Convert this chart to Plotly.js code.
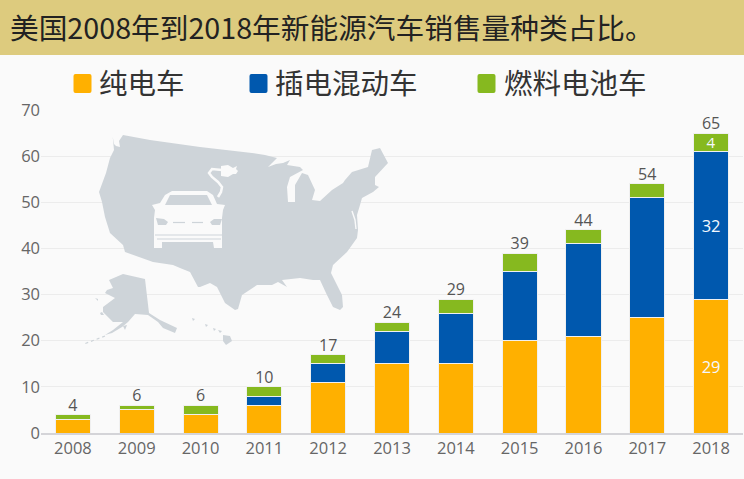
<!DOCTYPE html>
<html><head><meta charset="utf-8">
<script src="https://cdn.plot.ly/plotly-3.0.1.min.js"></script>
<style>html,body{margin:0;padding:0;background:#fafafa}#c{width:744px;height:479px}</style>
</head><body><div id="c"></div>
<script>
const years=[2008,2009,2010,2011,2012,2013,2014,2015,2016,2017,2018];
const battery=[3,5,4,6,11,15,15,20,21,25,29];
const plugin=[0,0,0,2,4,7,11,15,20,26,32];
const fuelCell=[1,1,2,2,2,2,3,4,3,3,4];
const totals=[4,6,6,10,17,24,29,39,44,54,65];
const batteryText=["","","","","","","","","","","29"];
const pluginText=["","","","","","","","","","","32"];
const fuelText=["","","","","","","","","","","4"];
const titleText="美国2008年到2018年新能源汽车销售量种类占比。";
const names=["纯电车","插电混动车","燃料电池车"];
const colors=["#FFB000","#0058AE","#86B91F"];

const W=744,H=479,mL=41,mR=1,mT=110,mB=46;
const pw=W-mL-mR,ph=H-mT-mB;
// decorative map outline, traced in page pixels and placed through the axes
const dx=p=>2007.5+(p-mL)/(pw/11);
const dy=p=>(H-mB-p)/(ph/70);
const poly=(a,close=true)=>a.map((p,i)=>(i?'L':'M')+dx(p[0]).toFixed(4)+','+dy(p[1]).toFixed(4)).join(' ')+(close?' Z':'');
const usa=[[112.7,136.7],[114,144],[116,146],[120,147],[119,141],[123,135],[150,140],[200,147],[252,153],[265,155],[277,158],[268,167],[276,164],[283,163],[290,160],[287,165],[300,167],[303,170],[290,177],[287,187],[288,202],[295,202],[295,185],[302,173],[308,175],[315,190],[312,200],[320,201],[332,190],[343,183],[345,180],[352,172],[368,167],[372,150],[380,148],[388,163],[375,177],[375,185],[379,187],[373,192],[362,198],[360,205],[357,215],[358,230],[357,238],[347,252],[333,265],[331,273],[342,295],[343,307],[340,310],[333,307],[326,293],[320,280],[313,280],[300,278],[282,280],[287,287],[278,282],[272,285],[257,285],[242,295],[238,309],[235,310],[225,303],[217,287],[210,283],[200,287],[198,287],[190,272],[180,268],[173,265],[153,262],[125,252],[123,245],[110,233],[105,217],[102,202],[99,192],[106,173],[110,158],[114,150]];
const alaska=[[123,274],[145,279],[149,313],[160,320],[177,328],[175,333],[163,328],[158,322],[148,315],[135,314],[128,322],[122,327],[112,333],[105,335],[113,330],[123,322],[113,322],[103,312],[103,307],[115,298],[105,293],[107,290],[113,288],[109,280]];
const islets=[[[95,298],[98,299],[98,301]],[[100,313],[102,312],[104,315],[101,315]],[[123,326],[127,325],[125,330]],[[192,318],[195,319],[193,321]],[[205,324],[208,325],[206,327]],[[213,328],[216,329],[214,331]],[[218,330],[222,331],[220,333]],[[223,335],[230,336],[232,341],[226,345],[223,341]]];
const carBody=[[160,203],[165,195],[172,191],[207,191],[213,195],[217,204],[225,205],[223,210],[222,218],[222,240],[222,248],[214,248],[213,242],[162,242],[162,248],[154,248],[154,218],[155,210],[152,205]];
const carWin=[[165,205],[170,195],[207,195],[212,205]];
const lampL=[[156,218],[164,219],[168,222],[166,225],[158,225]];
const lampR=[[222,219],[214,219],[210,222],[212,225],[220,225]];
const cable=[[218,197],[221,192],[222,187],[218,182],[212,177],[209,173],[212,169],[222,170]];
const plug=[[221,166],[228,165],[233,168],[237,166],[236,169],[238,171],[236,174],[233,174],[228,177],[221,176]];

const gray='#ced4d9',bg='#fafafa';
const fillS=(path,color)=>({type:'path',xref:'x',yref:'y',layer:'between',path,fillcolor:color,line:{width:0}});
const lineS=(path,color,w,dash)=>({type:'path',xref:'x',yref:'y',layer:'between',path,fillcolor:'rgba(0,0,0,0)',line:{color,width:w,dash:dash||'solid'}});
const mapShapes=[
 fillS(poly(usa),gray),fillS(poly(alaska),gray),...islets.map(h=>fillS(poly(h),gray)),
 lineS(poly([[105,336],[84,344]],false),gray,1.2,'3px,3px'),
 lineS(poly([[352,211],[355,220],[356,229]],false),bg,1.4),
 fillS(poly(carBody),bg),fillS(poly(carWin),gray),fillS(poly(lampL),gray),fillS(poly(lampR),gray),
 lineS(poly([[173,222.5],[185,222.5]],false),gray,1.2),lineS(poly([[192,222.5],[203,222.5]],false),gray,1.2),
 lineS(poly([[155,235],[222,235]],false),gray,1.2),lineS(poly([[157,239],[221,239]],false),gray,1.2),
 lineS(poly(cable,false),bg,2.5),fillS(poly(plug),bg)
];
const fx=p=>(p-mL)/pw, fy=p=>(H-mB-p)/ph;
const band={type:'rect',xref:'paper',yref:'paper',layer:'below',x0:fx(0),x1:fx(W),y0:fy(55),y1:fy(0),fillcolor:'#DDCB7E',line:{width:0}};
const swatch=(x0,y0,color)=>{const x1=x0+18,y1=y0+19,r=2;
 const P=(x,y)=>fx(x).toFixed(5)+','+fy(y).toFixed(5);
 return {type:'path',xref:'paper',yref:'paper',layer:'below',fillcolor:color,line:{width:0},
  path:`M${P(x0+r,y0)} L${P(x1-r,y0)} Q${P(x1,y0)} ${P(x1,y0+r)} L${P(x1,y1-r)} Q${P(x1,y1)} ${P(x1-r,y1)} L${P(x0+r,y1)} Q${P(x0,y1)} ${P(x0,y1-r)} L${P(x0,y0+r)} Q${P(x0,y0)} ${P(x0+r,y0)} Z`};};
const swatchX=[73.5,249.5,477.5], legendTextX=[98,274,503];
const legendNotes=names.map((n,i)=>({xref:'paper',yref:'paper',x:fx(legendTextX[i]),y:fy(81),xanchor:'left',yanchor:'middle',showarrow:false,text:n,
 font:{family:'"Noto Sans CJK SC"',size:28.5,color:'#333333'},borderpad:0}));

const bar=(name,y,color,text,size)=>({type:'bar',name,x:years,y,width:0.55,text,textposition:'inside',insidetextanchor:'middle',textangle:0,constraintext:'none',
  insidetextfont:{family:'Open Sans, sans-serif',size,color:'#f4f8ff'},marker:{color,line:{color:'#f0f0f0',width:1}},hoverinfo:'x+y+name'});
const traces=[bar(names[0],battery,colors[0],batteryText,16.5),bar(names[1],plugin,colors[1],pluginText,16.5),bar(names[2],fuelCell,colors[2],fuelText,15),
 {type:'scatter',mode:'text',x:years,y:totals,text:totals.map(String),textposition:'top center',showlegend:false,cliponaxis:false,
  textfont:{family:'Open Sans, sans-serif',size:16,color:'#555555'},hoverinfo:'skip'}];
const layout={width:W,height:H,barmode:'stack',bargap:0.45,paper_bgcolor:bg,plot_bgcolor:bg,
 margin:{l:mL,r:mR,t:mT,b:mB,pad:0},
 title:{text:titleText,x:10/W,xanchor:'left',xref:'container',y:1-29/H,yref:'container',yanchor:'middle',font:{family:'"Noto Sans CJK SC"',size:28.7,color:'#222222'},pad:{l:0,r:0,t:0,b:0}},
 showlegend:false,
 xaxis:{type:'linear',range:[2007.5,2018.5],tickmode:'array',tickvals:years,ticktext:years.map(String),showgrid:false,zeroline:false,showline:true,linecolor:'#d4d4d8',linewidth:1.5,ticks:'',
  tickfont:{family:'Open Sans, sans-serif',size:16.5,color:'#666666'},fixedrange:true},
 yaxis:{range:[0,70],tickvals:[0,10,20,30,40,50,60,70],showgrid:true,gridcolor:'#ececec',gridwidth:1,zeroline:false,showline:false,ticks:'',
  tickfont:{family:'Open Sans, sans-serif',size:16.5,color:'#666666'},fixedrange:true},
 annotations:legendNotes,
 shapes:[band,...swatchX.map((x,i)=>swatch(x,74,colors[i])),...mapShapes]};
Plotly.newPlot('c',traces,layout,{staticPlot:true,displayModeBar:false});
</script></body></html>
